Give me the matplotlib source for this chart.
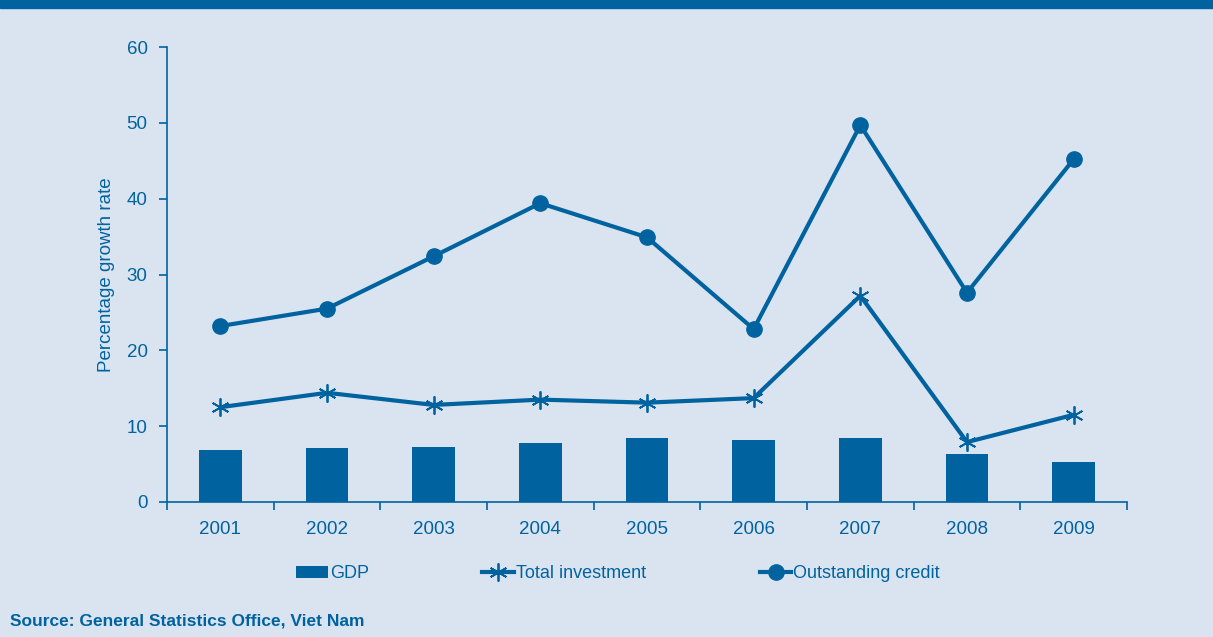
"""Growth of GDP, total investment and outstanding credit in Viet Nam, 2001-2009."""

import matplotlib
matplotlib.use("Agg")
import matplotlib.pyplot as plt
import numpy as np

years = ["2001", "2002", "2003", "2004", "2005", "2006", "2007", "2008", "2009"]
gdp = [6.9, 7.1, 7.3, 7.8, 8.4, 8.2, 8.5, 6.3, 5.3]
total_investment = [12.5, 14.4, 12.8, 13.5, 13.1, 13.7, 27.2, 7.9, 11.5]
outstanding_credit = [23.2, 25.5, 32.4, 39.4, 34.9, 22.8, 49.7, 27.6, 45.2]

BLUE = "#0063a0"
BG = "#dae4f0"

plt.rcParams["font.family"] = ["Liberation Sans", "DejaVu Sans"]

fig = plt.figure(figsize=(12.13, 6.37), dpi=100, facecolor=BG)
ax = fig.add_axes([167 / 1213, 1 - 502 / 637, 960 / 1213, 455 / 637])
ax.set_facecolor(BG)

x = np.arange(len(years))
bars = ax.bar(x, gdp, width=0.4, color=BLUE, label="GDP", zorder=2)
inv_line, = ax.plot(x, total_investment, color=BLUE, lw=3, marker=(6, 2, 0), ms=13,
                    mew=1.3, label="Total investment", zorder=3)
cred_line, = ax.plot(x, outstanding_credit, color=BLUE, lw=3, marker="o", ms=11,
                     label="Outstanding credit", zorder=3)

ax.set_xlim(-0.5, len(years) - 0.5)
ax.set_ylim(0, 60)
ax.set_yticks(range(0, 61, 10))
ax.set_xticks(x)
ax.set_xticklabels(years)
ax.set_xticks(np.arange(-0.5, len(years)), minor=True)
ax.tick_params(axis="x", which="major", length=0, pad=14, labelsize=13.5, labelcolor=BLUE)
ax.tick_params(axis="x", which="minor", length=6, width=1.2, color=BLUE, direction="out")
ax.tick_params(axis="y", length=6, width=1.2, color=BLUE, pad=8, labelsize=13.5, labelcolor=BLUE)

for side in ("top", "right"):
    ax.spines[side].set_visible(False)
for side in ("left", "bottom"):
    ax.spines[side].set_color(BLUE)
    ax.spines[side].set_linewidth(1.2)

ax.set_ylabel("Percentage growth rate", color=BLUE, fontsize=13.5, labelpad=8)

leg = fig.legend([bars, inv_line, cred_line], ["GDP", "Total investment", "Outstanding credit"],
                 loc="center", bbox_to_anchor=(618 / 1213, 1 - 574 / 637), ncol=3,
                 frameon=False, labelcolor=BLUE, handlelength=1.75, handleheight=0.6,
                 handletextpad=0.1, columnspacing=6.3, fontsize=13)

# dark title band across the top
fig.add_artist(plt.Rectangle((0, 1 - 8 / 637), 1, 8 / 637, transform=fig.transFigure,
                             color=BLUE, zorder=5))

fig.text(10 / 1213, 1 - 621 / 637, "Source: General Statistics Office, Viet Nam",
         color=BLUE, fontsize=12.5, fontweight="bold", va="center")

fig.savefig("out.png", dpi=100, facecolor=BG)
